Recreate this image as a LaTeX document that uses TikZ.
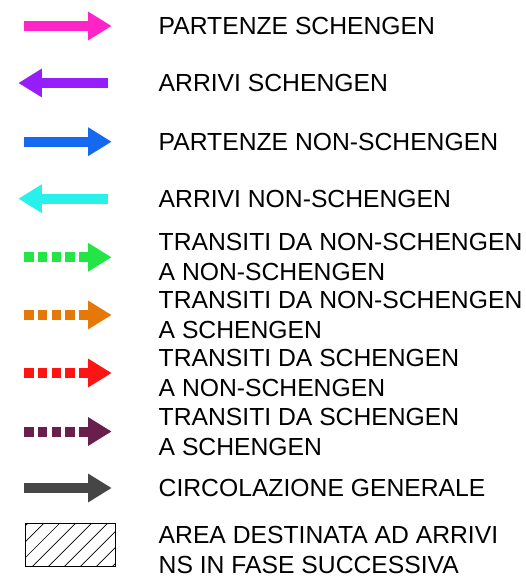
\documentclass[tikz,border=0pt]{standalone}
\usepackage{fontspec}
\setmainfont{Liberation Sans}
\usetikzlibrary{arrows.meta,patterns.meta}

\definecolor{pinkps}{RGB}{255,36,200}
\definecolor{violas}{RGB}{150,30,250}
\definecolor{bluepn}{RGB}{20,105,240}
\definecolor{cyanan}{RGB}{40,240,235}
\definecolor{greentr}{RGB}{35,230,70}
\definecolor{orangetr}{RGB}{230,120,10}
\definecolor{redtr}{RGB}{255,20,20}
\definecolor{plumtr}{RGB}{105,30,75}
\definecolor{greycg}{RGB}{70,70,70}

\tikzset{
  arrw/.style={line width=10pt, -{Triangle[length=23.5pt,width=27pt]}},
  dotarrw/.style={arrw, dash pattern=on 9.5pt off 4.3pt},
  lbl/.style={anchor=west, inner sep=0pt, align=left,
    font=\fontsize{24.7}{29.5}\selectfont}
}

\begin{document}
\begin{tikzpicture}[x=1pt, y=-1pt]
\useasboundingbox (0,0) rectangle (526,583);

\draw[arrw, pinkps] (24,26) -- (111.7,26);
\draw[arrw, violas] (107.7,83) -- (18.3,83);
\draw[arrw, bluepn] (24,141.7) -- (111.7,141.7);
\draw[arrw, cyanan] (107.7,198.7) -- (18.3,198.7);
\draw[dotarrw, greentr] (24,257.3) -- (111.7,257.3);
\draw[dotarrw, orangetr] (24,315) -- (111.7,315);
\draw[dotarrw, redtr] (24,373) -- (111.7,373);
\draw[dotarrw, plumtr] (24,431.5) -- (111.7,431.5);
\draw[arrw, greycg] (24,488) -- (111.7,488);
\draw[line width=1pt, pattern={Lines[angle=45,distance=11.3pt,line width=0.7pt]}]
  (25,523) rectangle (115,566);

\node[lbl] (ps) at (158.5,25.5) {PARTENZE SCHENGEN};
\node[lbl] (as) at (158.5,83) {ARRIVI SCHENGEN};
\node[lbl] (pn) at (158.5,141.5) {PARTENZE NON-SCHENGEN};
\node[lbl] (an) at (158.5,198.5) {ARRIVI NON-SCHENGEN};
\node[lbl] (tnn) at (158.5,257) {TRANSITI DA NON-SCHENGEN\\A NON-SCHENGEN};
\node[lbl] (tns) at (158.5,315) {TRANSITI DA NON-SCHENGEN\\A SCHENGEN};
\node[lbl] (tsn) at (158.5,373) {TRANSITI DA SCHENGEN\\A NON-SCHENGEN};
\node[lbl] (tss) at (158.5,432) {TRANSITI DA SCHENGEN\\A SCHENGEN};
\node[lbl] (cg) at (158.5,487.5) {CIRCOLAZIONE GENERALE};
\node[lbl] (ns) at (158.5,550) {AREA DESTINATA AD ARRIVI\\NS IN FASE SUCCESSIVA};
\end{tikzpicture}
\end{document}
